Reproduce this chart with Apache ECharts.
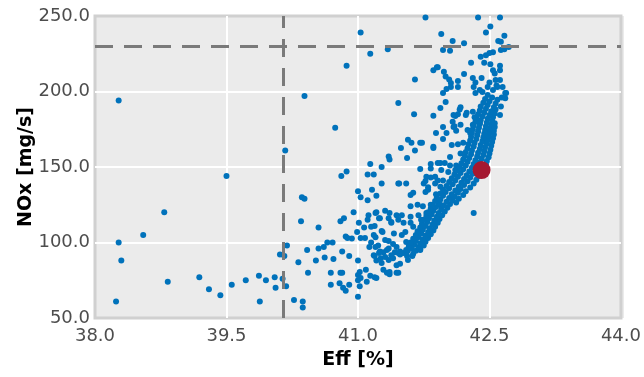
<!DOCTYPE html>
<html>
<head>
<meta charset="utf-8">
<title>Eff vs NOx</title>
<script src="https://cdn.jsdelivr.net/npm/echarts@6/dist/echarts.min.js"></script>
<style>
	html, body { margin: 0; padding: 0; background: #fff; }
	#wrap { position: relative; width: 644px; height: 377px; }
	/* gray panel behind the transparent chart canvas, same rect as the grid */
	#panel { position: absolute; left: 95px; top: 16px; width: 529px; height: 302px; background: #ebebeb; }
	#chart { position: absolute; left: 0; top: 0; width: 644px; height: 377px; }
</style>
</head>
<body>
<div id="wrap">
	<div id="panel"></div>
	<div id="chart"></div>
</div>
<script>
	// axis ticks
	var effTicks = [38.0, 39.5, 41.0, 42.5, 44.0];
	var noxTicks = [50, 100, 150, 200, 250];

	// reference lines and the highlighted operating point
	var effLimit = 40.15;
	var noxLimit = 230;
	var highlightPoint = [[42.41, 148]];

	// sparse points on the left side of the cloud [eff, nox]
	var leftPoints = [
		[38.27, 194], [40.39, 197], [40.17, 161], [39.50, 144], [38.27, 100], [38.30, 88], [38.24, 61],
		[38.55, 105], [38.79, 120], [38.83, 74], [39.19, 77], [39.30, 69], [39.43, 65], [39.56, 72],
		[39.72, 75], [39.87, 78], [39.88, 61], [39.95, 75], [40.05, 77], [40.06, 70], [40.11, 92],
		[40.14, 76], [40.16, 91], [40.19, 98], [40.18, 71], [40.27, 62], [40.32, 87], [40.35, 114],
		[40.36, 130], [40.39, 129], [40.37, 61], [40.37, 57], [40.42, 95], [40.43, 80], [40.52, 88],
		[40.55, 110], [40.55, 96]
	];

	// points in the middle, lower part
	var midPoints = [
		[40.81, 144], [40.87, 147], [41.14, 152], [41.11, 145], [41.18, 145], [41.27, 150], [41.35, 157],
		[41.36, 155], [41.27, 139], [41.46, 139], [41.00, 134], [41.16, 135], [41.03, 130], [41.11, 128],
		[41.21, 131], [40.80, 114], [40.84, 116], [40.95, 120], [41.01, 113], [41.12, 118], [41.11, 115],
		[41.21, 120], [41.24, 116], [41.31, 121], [41.35, 116], [41.38, 113], [41.07, 110], [41.15, 110.5],
		[41.19, 111], [41.44, 118], [40.61, 97], [40.65, 100], [40.71, 100], [40.62, 90], [40.72, 89],
		[40.82, 94], [40.69, 80], [40.69, 72], [40.80, 80], [40.82, 80], [40.79, 73], [40.83, 70],
		[40.86, 68], [40.90, 72], [40.86, 104], [40.88, 103], [40.93, 102.6], [40.90, 91], [41.00, 88],
		[41.02, 80.5], [41.00, 78.5], [41.03, 76.5], [41.02, 71], [41.00, 64], [41.09, 82], [41.10, 74],
		[40.99, 107], [41.03, 103], [41.08, 103], [41.14, 78], [41.19, 77], [41.21, 76.5], [41.13, 97],
		[41.15, 100], [41.20, 103.5], [41.23, 98], [41.18, 91.6], [41.21, 88], [41.27, 86.5], [41.26, 89.6],
		[41.29, 93.5], [41.33, 95], [41.35, 88.4], [41.36, 80.5], [41.35, 101], [41.40, 99], [41.40, 89.6],
		[41.44, 85], [41.44, 80], [41.27, 107.6], [41.42, 93.5], [41.00, 75], [41.19, 91], [41.31, 90.4],
		[41.24, 93], [41.29, 82], [41.33, 80], [41.36, 79], [41.46, 80], [41.38, 91.6], [41.48, 86],
		[41.46, 93], [41.52, 93], [41.57, 88.4], [41.56, 94], [41.62, 91], [41.71, 95],
		[41.47, 139], [41.55, 139], [41.60, 131.5], [41.63, 133], [41.60, 124], [41.77, 133.5], [41.80, 135],
		[41.75, 139], [41.88, 139], [41.89, 132], [41.94, 137], [41.68, 125], [41.74, 124], [41.83, 125],
		[41.94, 125], [41.20, 119.5], [41.25, 116], [41.36, 119.5], [41.38, 113.6], [41.46, 115],
		[41.50, 118], [41.52, 113], [41.60, 117], [41.60, 113], [41.63, 110.5], [41.69, 118], [41.72, 115],
		[41.78, 119.5], [41.18, 105], [41.28, 107], [41.31, 101.6], [41.41, 106], [41.50, 105], [41.54, 107],
		[41.55, 100.3], [41.57, 95], [41.61, 97], [41.69, 103.6], [41.72, 107], [41.78, 103.6], [41.48, 94],
		[41.44, 97], [41.35, 96], [41.25, 94], [41.20, 97], [42.32, 119.5]
	];

	// points above and around the upper end of the band
	var upperPoints = [
		[41.77, 249], [42.37, 249], [42.62, 249], [42.51, 243], [41.95, 238], [42.46, 239], [42.60, 233.4],
		[42.67, 237], [42.63, 233], [42.08, 233.4], [42.21, 232], [41.97, 227.5], [42.05, 227], [42.54, 226],
		[42.50, 225.5], [42.63, 227.5], [42.67, 228], [42.72, 229.5], [42.46, 224], [42.40, 223], [42.44, 219],
		[42.29, 219], [42.51, 218], [42.54, 214], [42.56, 212], [42.62, 214], [42.62, 217], [41.91, 216],
		[41.86, 214], [41.98, 213], [42.21, 211.6], [42.00, 210], [42.04, 208], [42.14, 207], [42.06, 205.6],
		[42.14, 203], [42.06, 203], [42.01, 201.6], [41.97, 199], [41.65, 208], [42.31, 209], [42.34, 206],
		[42.41, 209], [42.32, 203], [42.39, 201], [42.50, 206], [42.57, 207.6], [42.62, 207.6], [42.59, 203],
		[42.65, 203], [42.68, 199], [42.64, 196], [42.68, 195.6], [42.34, 199], [42.42, 199.7], [42.48, 203],
		[42.48, 197.7], [42.54, 201], [42.00, 193], [41.46, 192.4], [41.03, 239], [41.14, 225], [41.34, 228],
		[40.87, 217], [41.90, 216], [41.64, 185], [41.86, 184], [40.74, 176], [41.94, 189], [42.09, 184.4],
		[42.16, 188], [42.23, 184.4], [42.09, 176.5], [42.01, 172.5], [41.97, 168.5], [41.89, 172.5],
		[41.86, 163.4], [41.71, 166], [41.57, 168], [41.49, 162.6], [41.65, 161], [41.56, 156], [41.91, 152.6],
		[42.58, 204], [42.63, 190], [42.62, 184.4], [42.69, 199], [42.11, 183.8], [42.14, 185], [42.17, 189.6],
		[42.24, 186], [42.31, 186.6], [42.33, 183], [42.08, 180], [42.10, 177], [42.17, 178], [41.97, 176.5],
		[42.12, 174], [42.25, 174.5], [42.28, 172.5], [42.31, 178], [42.39, 179], [41.61, 166], [41.73, 166],
		[41.86, 162.6], [42.07, 164.6], [42.14, 165], [42.20, 166], [42.17, 159], [42.05, 156.6], [41.83, 152],
		[41.94, 152.6], [41.99, 152.6], [42.05, 151], [42.12, 151], [41.83, 149], [41.71, 148.6], [41.95, 148],
		[42.03, 146.7], [42.11, 148], [41.78, 143.5], [41.83, 143], [41.88, 143.5], [41.91, 141], [41.97, 141],
		[41.77, 140.7], [41.80, 136.6]
	];

	// the dense band
	var bandPoints = [
		[41.48, 92], [41.56, 91], [41.63, 92.5],
		[41.55, 95], [41.61, 96], [41.66, 94.5], [41.71, 95.5],
		[41.58, 97.5], [41.64, 98.5], [41.69, 97], [41.75, 98],
		[41.60, 100], [41.66, 101], [41.71, 99.5], [41.77, 100.5],
		[41.63, 102.5], [41.68, 103.5], [41.74, 102], [41.80, 103],
		[41.66, 105], [41.72, 106], [41.77, 104.5], [41.83, 105.5],
		[41.68, 107.5], [41.74, 108.5], [41.80, 107], [41.86, 108],
		[41.71, 110], [41.77, 111], [41.82, 109.5], [41.88, 110.5],
		[41.73, 112.5], [41.79, 113.5], [41.85, 112], [41.91, 113],
		[41.75, 115], [41.81, 116], [41.87, 114.5], [41.93, 115.5],
		[41.78, 117.5], [41.84, 118.5], [41.90, 117], [41.96, 118],
		[41.80, 120], [41.86, 121], [41.92, 119.5], [41.99, 120.5],
		[41.83, 122.5], [41.89, 123.5], [41.95, 122], [42.02, 123],
		[41.85, 125], [41.92, 126], [41.98, 124.5], [42.05, 125.5],
		[41.88, 127.5], [41.94, 128.5], [42.01, 127], [42.08, 128], [42.12, 126.5],
		[41.90, 130], [41.97, 131], [42.04, 129.5], [42.10, 130.5], [42.15, 129],
		[41.94, 132.5], [42.00, 133.5], [42.07, 132], [42.14, 133], [42.20, 131.5],
		[41.97, 135], [42.04, 136], [42.11, 134.5], [42.17, 135.5], [42.23, 134],
		[42.01, 137.5], [42.08, 138.5], [42.15, 137], [42.21, 138], [42.28, 136.5],
		[42.04, 140], [42.11, 141], [42.18, 139.5], [42.25, 140.5], [42.32, 139],
		[42.07, 142.5], [42.14, 143.5], [42.21, 142], [42.28, 143], [42.35, 141.5],
		[42.10, 145], [42.17, 146], [42.24, 144.5], [42.31, 145.5], [42.38, 144],
		[42.13, 147.5], [42.20, 148.5], [42.27, 147], [42.34, 148], [42.42, 146.5],
		[42.16, 150], [42.23, 151], [42.30, 149.5], [42.37, 150.5], [42.44, 149],
		[42.18, 152.5], [42.25, 153.5], [42.32, 152], [42.39, 153], [42.46, 151.5],
		[42.20, 155], [42.27, 156], [42.34, 154.5], [42.41, 155.5], [42.47, 154],
		[42.22, 157.5], [42.29, 158.5], [42.36, 157], [42.43, 158], [42.49, 156.5],
		[42.23, 160], [42.30, 161], [42.37, 159.5], [42.44, 160.5], [42.50, 159],
		[42.25, 162.5], [42.32, 163.5], [42.39, 162], [42.45, 163], [42.51, 161.5],
		[42.26, 165], [42.33, 166], [42.40, 164.5], [42.47, 165.5], [42.52, 164],
		[42.28, 167.5], [42.35, 168.5], [42.42, 167], [42.48, 168], [42.53, 166.5],
		[42.29, 170], [42.36, 171], [42.43, 169.5], [42.49, 170.5], [42.54, 169],
		[42.30, 172.5], [42.37, 173.5], [42.44, 172], [42.50, 173], [42.55, 171.5],
		[42.31, 175], [42.38, 176], [42.45, 174.5], [42.51, 175.5], [42.55, 174],
		[42.32, 177.5], [42.39, 178.5], [42.46, 177], [42.52, 178], [42.56, 176.5],
		[42.34, 180], [42.40, 181], [42.47, 179.5], [42.53, 180.5], [42.56, 179],
		[42.35, 182.5], [42.42, 183.5], [42.48, 182], [42.54, 183],
		[42.37, 185], [42.44, 186], [42.50, 184.5], [42.56, 185.5],
		[42.39, 187.5], [42.46, 188.5], [42.52, 187], [42.57, 188],
		[42.40, 190], [42.48, 191], [42.55, 189.5],
		[42.43, 192.5], [42.50, 193.5], [42.57, 192],
		[42.45, 195], [42.53, 196], [42.59, 194.5]
	];

	var fontFamily = 'DejaVu Sans';
	var allPoints = leftPoints.concat(midPoints, upperPoints, bandPoints);

	var chart = echarts.init(document.getElementById('chart'));

	var option = {
		animation: false,
		grid: [{
			left: 95, width: 529, top: 16, height: 302,
			show: true,
			backgroundColor: '#ebebeb',
			borderColor: '#d0d0d0',
			borderWidth: 3
		}],
		xAxis: [{
			gridIndex: 0,
			type: 'value',
			min: effTicks[0],
			max: effTicks[effTicks.length - 1],
			interval: effTicks[1] - effTicks[0],
			name: 'Eff [%]',
			nameLocation: 'middle',
			nameGap: 33,
			nameMoveOverlap: false,
			nameTextStyle: { fontFamily: fontFamily, fontWeight: 'bold', fontSize: 19, color: '#000' },
			axisLine: { show: false },
			axisTick: { show: false },
			axisLabel: {
				fontFamily: fontFamily, fontSize: 18, color: '#4d4d4d', margin: 9,
				formatter: function (v) { return v.toFixed(1); }
			},
			splitLine: { showMinLine: false, showMaxLine: false, lineStyle: { color: '#fff', width: 2 } }
		}],
		yAxis: [{
			gridIndex: 0,
			type: 'value',
			min: noxTicks[0],
			max: noxTicks[noxTicks.length - 1],
			interval: noxTicks[1] - noxTicks[0],
			name: 'NOx [mg/s]',
			nameLocation: 'middle',
			nameGap: 59,
			nameMoveOverlap: false,
			nameTextStyle: { fontFamily: fontFamily, fontWeight: 'bold', fontSize: 19, color: '#000' },
			axisLine: { show: false },
			axisTick: { show: false },
			axisLabel: {
				fontFamily: fontFamily, fontSize: 18, color: '#4d4d4d', margin: 5,
				formatter: function (v) { return v.toFixed(1); }
			},
			splitLine: { showMinLine: false, showMaxLine: false, lineStyle: { color: '#fff', width: 2 } }
		}],
		series: [
			{
				type: 'scatter',
				xAxisIndex: 0,
				yAxisIndex: 0,
				data: allPoints,
				symbolSize: 6,
				itemStyle: { color: '#0072bb', opacity: 1 },
				markLine: {
					silent: true,
					symbol: 'none',
					label: { show: false },
					lineStyle: { color: '#7a7a7a', width: 3, type: [18, 11] },
					data: [{ xAxis: effLimit }, { yAxis: noxLimit }]
				}
			},
			{
				type: 'scatter',
				xAxisIndex: 0,
				yAxisIndex: 0,
				data: highlightPoint,
				symbolSize: 18,
				itemStyle: { color: '#a51931', opacity: 1 }
			}
		]
	};

	chart.setOption(option);
</script>
</body>
</html>
